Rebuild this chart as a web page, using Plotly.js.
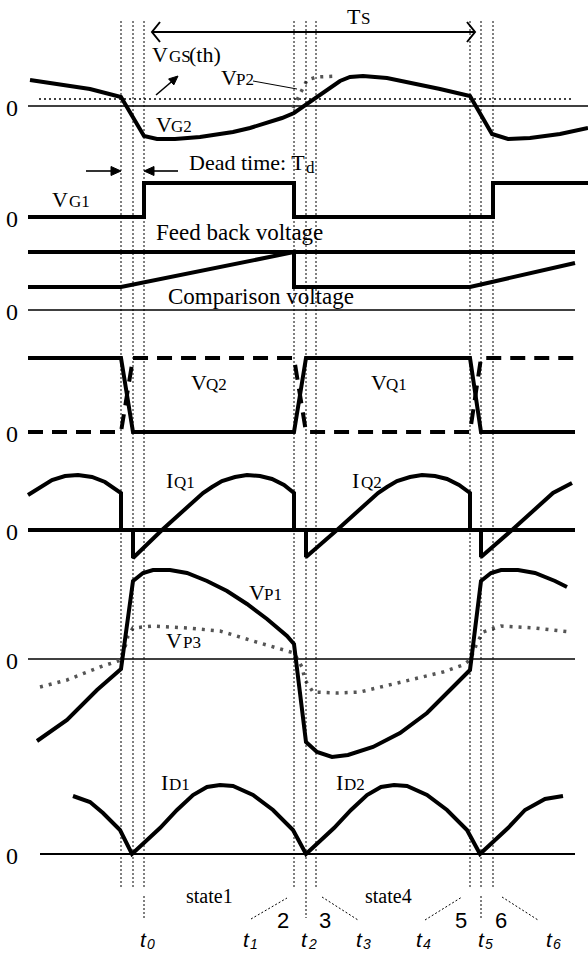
<!DOCTYPE html>
<html><head><meta charset="utf-8">
<script src="https://cdn.plot.ly/plotly-3.0.1.min.js"></script>
<style>html,body{margin:0;padding:0;background:#fff}</style>
</head><body><div id="chart" style="width:588px;height:956px"></div>
<script>
// ---- DATA (time in arbitrary units, levels relative to each panel's 0) ----
const vg2_t = [30,60,90,121,144,157,175,200,233,250,267,282,294,307,320,330,340,350,363,387,413,440,470,492,508,530,560,588];
const vg2_v = [26,22,17,9,-30,-33,-33,-31,-26,-22,-17,-12,-7,2,10,17,25,29,30,28,23,17,10,-28,-33,-32,-28,-22];
const vp2_t = [293,297,301,304,307,317,338];
const vp2_v = [-2,6,13,20,26,29,30];
const vth_t = [39,572];
const vth_v = [7,7];

const vg1_t = [28,144,144,294,294,493,493,588];
const vg1_v = [0,0,34,34,0,0,34,34];

const fb_t = [28,575];
const fb_v = [58,58];
const cmp_t = [28,121,294,294,470,575];
const cmp_v = [23,23,58,23,23,47];

const vq1_t = [28,121,133,294,306,470,481,575];
const vq1_v = [74,74,0,0,74,74,0,0];
const vq2_t = [28,121,133,294,306,470,481,575];
const vq2_v = [0,0,74,74,0,0,74,74];

const iq_t = [28,40,52,65,78,92,105,121,121,null,
              133,133,162,203,212,222,235,247,260,272,284,294,294,null,
              306,306,337,378,387,397,410,422,435,447,459,470,470,null,
              481,481,512,553,572];
const iq_v = [35,43,50,54,55,53,48,37,0,null,
              0,-28,0,37,43,49,53,55,54,51,45,37,0,null,
              0,-27,0,37,43,49,53,55,54,51,45,37,0,null,
              0,-27,0,37,47];

const vp1_t = [37,67,97,121,133,143,153,170,187,207,227,247,267,287,294,306,317,332,348,373,400,427,450,470,481,491,501,518,535,555,567];
const vp1_v = [-82,-61,-31,-10,78,86,89,89,86,78,68,55,40,23,15,-83,-93,-98,-96,-88,-74,-54,-31,-11,78,86,89,89,86,78,72];
const vp3_t = [40,67,100,121,124,128,133,153,187,220,253,287,294,302,305,313,337,360,390,420,443,463,470,473,477,483,501,535,570];
const vp3_v = [-28,-21,-8,-1,8,23,31,33,31,28,18,8,6,-8,-21,-33,-34,-33,-26,-19,-13,-6,-1,6,16,27,33,31,27];

const id_t = [73,90,103,120,132,160,177,193,207,220,233,253,273,293,306,334,351,367,381,394,407,427,447,467,480,508,525,545,563];
const id_v = [58,52,41,24,0,26,44,59,67,69,68,59,44,24,0,26,44,59,67,69,68,59,44,24,0,26,44,55,58];

const eventTimes = [121,133,144,294,306,316,470,481,493];
const tIndex = ['0','1','2','3','4','5','6'];
const tLabelPos = [146,249,307,362,422,484,552];
const stateNums = ['2','3','5','6'];
const stateNames = ['state1','state4'];

// ---- LAYOUT CONSTANTS ----
const H = 956, W = 588;
const zeros = {y2:106, y3:217, y4:310, y5:432, y6:530, y7:659, y8:854};

const traces = [];
function tr(axis, x, y, w, dash, color){
  traces.push({type:'scatter', mode:'lines', x:x, y:y, yaxis:axis, xaxis:'x',
    connectgaps:false, hoverinfo:'skip', showlegend:false,
    line:{color:color||'#000', width:w, dash:dash||'solid', shape:'linear'}});
}
// zero lines
tr('y2',[28,588],[0,0],1.6);
tr('y4',[28,575],[0,0],1.6);
tr('y6',[28,575],[0,0],4);
tr('y7',[28,575],[0,0],1.6);
tr('y8',[40,575],[0,0],2.2);
// waveforms
tr('y2',vth_t,vth_v,1.5,'2px,3px');
tr('y2',vp2_t,vp2_v,3.5,'3px,6px','#555');
tr('y2',vg2_t,vg2_v,4);
tr('y3',vg1_t,vg1_v,4);
tr('y4',fb_t,fb_v,4);
tr('y4',cmp_t,cmp_v,4);
tr('y5',vq2_t,vq2_v,4,'15px,9px');
tr('y5',vq1_t,vq1_v,4);
tr('y6',iq_t,iq_v,4);
tr('y7',vp3_t,vp3_v,3.5,'3px,6px','#555');
tr('y7',vp1_t,vp1_v,4);
tr('y8',id_t,id_v,4);

const layout = {
  width:W, height:H, margin:{l:0,r:0,t:0,b:0},
  paper_bgcolor:'#fff', plot_bgcolor:'#fff', showlegend:false,
  xaxis:{range:[0,W], visible:false, fixedrange:true},
  yaxis:{range:[H,0], visible:false, fixedrange:true},
  shapes:[], annotations:[]
};
Object.keys(zeros).forEach(k=>{
  const z = zeros[k];
  layout['yaxis'+k.slice(1)] = {overlaying:'y', anchor:'x', range:[z-H, z], visible:false, fixedrange:true};
});

const DOT = {color:'#000', width:1, dash:'2px,2px'};
function shp(o){ layout.shapes.push(Object.assign({xref:'x', yref:'y'}, o)); }
eventTimes.forEach(t=>shp({type:'line', x0:t, x1:t, y0:21, y1:(t===306?918:889), line:DOT}));
[144,481].forEach(t=>shp({type:'line', x0:t, x1:t, y0:896, y1:918, line:DOT}));
[[251,919,287,898],[322,897,358,920],[425,920,462,897],[502,897,538,920]].forEach(s=>
  shp({type:'line', x0:s[0], y0:s[1], x1:s[2], y1:s[3], line:DOT}));
// Ts arrow
shp({type:'line', x0:152, x1:475, y0:32, y1:32, line:{color:'#000', width:2}});
shp({type:'path', path:'M 160 22 L 152 32 L 160 42', line:{color:'#000', width:2}});
shp({type:'path', path:'M 467 22 L 475 32 L 467 42', line:{color:'#000', width:2}});
// VP2 pointer line
shp({type:'line', x0:253, y0:81, x1:297, y1:89, line:{color:'#000', width:1}});
// VGS(th) arrow
shp({type:'line', x0:156, y0:95, x1:173, y1:80.5, line:{color:'#000', width:1.6}});
shp({type:'path', path:'M 178 76 L 173.8 84.9 L 168.6 78.9 Z', fillcolor:'#000', line:{color:'#000', width:1}});
// dead-time arrows
shp({type:'line', x0:86, y0:171, x1:113, y1:171, line:{color:'#000', width:1.6}});
shp({type:'path', path:'M 121 171 L 111 166.5 L 111 175.5 Z', fillcolor:'#000', line:{color:'#000', width:1}});
shp({type:'line', x0:152, y0:171, x1:178, y1:171, line:{color:'#000', width:1.6}});
shp({type:'path', path:'M 144 171 L 154 166.5 L 154 175.5 Z', fillcolor:'#000', line:{color:'#000', width:1}});

const SERIF = 'Liberation Serif, Times New Roman, serif';
const SANS = 'Liberation Sans, Arial, sans-serif';
// text placed by x and baseline
function txt(text, x, base, size, family, anchor, style){
  layout.annotations.push({text:text, x:x, y:base - 0.3375*size, xref:'x', yref:'y', showarrow:false,
    borderpad:0, borderwidth:0,
    xanchor:anchor||'left', yanchor:'middle',
    font:{family:family||SERIF, size:size, color:'#000', style:style||'normal'}});
}
const BIG = 22, SM = 17;
// [big, small, xBig, xSmall, baseline]
const subLabels = [
  ['V','GS',152,169,62],
  ['V','P2',221,236,85],
  ['V','G2',156,171,132],
  ['V','G1',52,69,207],
  ['V','Q2',191,206,390],
  ['V','Q1',371,386,390],
  ['I','Q1',166,174,488],
  ['I','Q2',352,361,488],
  ['V','P1',249,264,600],
  ['V','P3',166,183,648],
  ['I','D1',161,169,790],
  ['I','D2',336,344,790],
  ['T','S',347,361,24]
];
subLabels.forEach(l=>{ txt(l[0], l[2], l[4], BIG); txt(l[1], l[3], l[4], SM); });
txt('(th)',189,62,BIG);
txt('Dead time: T',305,170,BIG,SERIF,'right');
txt('d',306,173,SM);
txt('Feed back voltage',156,240,23);
txt('Comparison voltage',168,304,23);
Object.keys(zeros).forEach(k=>txt('0',12,zeros[k]+10,24,SERIF,'center'));
txt(stateNames[0],209,903,20,SERIF,'center');
txt(stateNames[1],388,903,20,SERIF,'center');
[283,325,461,501].forEach((x,i)=>txt(stateNums[i],x,928,22,SANS,'center'));
tLabelPos.forEach((x,i)=>{
  txt('t',x+1,947,21,SANS,'right','italic');
  txt(tIndex[i],x+1,949,14,SANS,'left','italic');
});

Plotly.newPlot('chart', traces, layout, {staticPlot:true, displayModeBar:false});
</script></body></html>
